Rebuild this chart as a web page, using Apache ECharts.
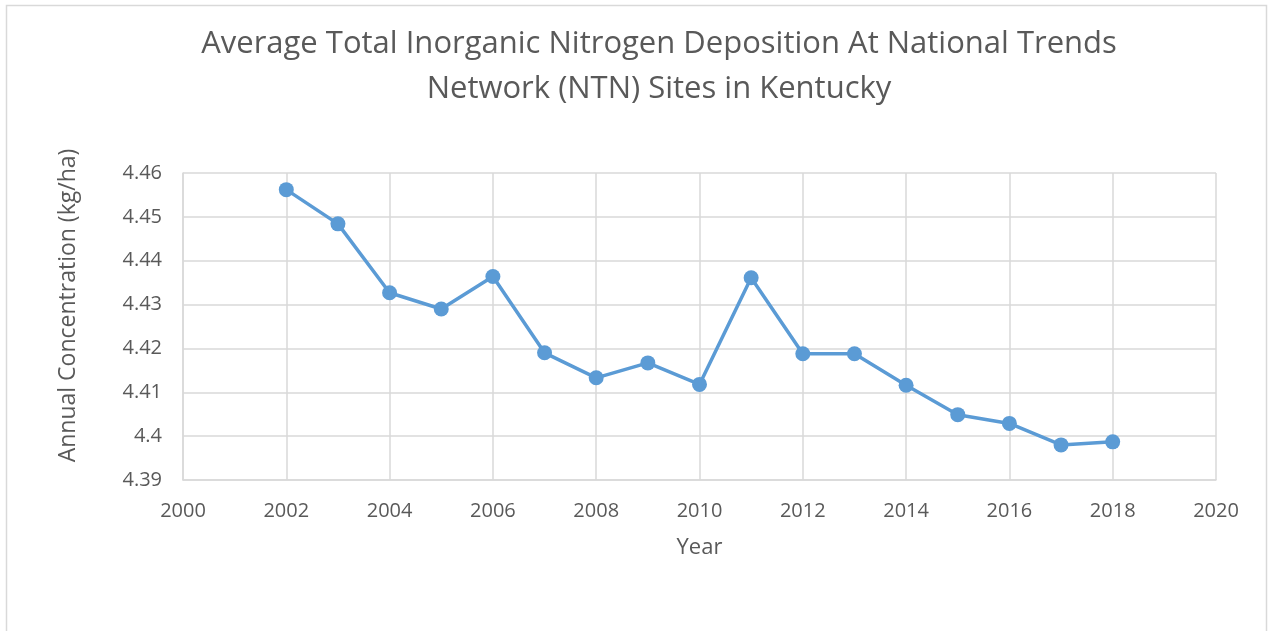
<!DOCTYPE html>
<html>
<head>
<meta charset="utf-8">
<script src="https://cdn.jsdelivr.net/npm/echarts@6/dist/echarts.min.js"></script>
<style>
  html, body { margin: 0; padding: 0; background: #fff; }
  #chart { width: 1268px; height: 631px; }
</style>
</head>
<body>
<div id="chart"></div>
<script>
    // values
    var years = [2002, 2003, 2004, 2005, 2006, 2007, 2008, 2009, 2010,
                 2011, 2012, 2013, 2014, 2015, 2016, 2017, 2018];
    var deposition = [4.4562, 4.4484, 4.4327, 4.4290, 4.4364, 4.4190, 4.4133, 4.4167, 4.4118,
                      4.4361, 4.4188, 4.4188, 4.4116, 4.4049, 4.4029, 4.3980, 4.3987];

    var titleText = 'Average Total Inorganic Nitrogen Deposition At National Trends\nNetwork (NTN) Sites in Kentucky';
    var font = 'Open Sans';
    var textColor = '#595959';
    var gridColor = '#d9d9d9';

    var points = years.map(function (y, i) { return [y, deposition[i]]; });

    var chart = echarts.init(document.getElementById('chart'));
    chart.setOption({
        animation: false,
        backgroundColor: '#fff',
        title: {
            text: titleText,
            left: 654,
            textAlign: 'center',
            top: 17,
            textStyle: {
                fontFamily: font,
                fontSize: 31,
                fontWeight: 'normal',
                color: textColor,
                lineHeight: 45
            }
        },
        graphic: [{
            type: 'rect',
            shape: { x: 6.5, y: 5.5, width: 1260, height: 660 },
            style: { fill: 'none', stroke: gridColor, lineWidth: 1.5 },
            silent: true
        }],
        grid: { left: 183, right: 52, top: 173, bottom: 151 },
        xAxis: {
            type: 'value',
            min: 2000,
            max: 2020,
            interval: 2,
            name: 'Year',
            nameLocation: 'middle',
            nameGap: 57,
            nameTextStyle: { fontFamily: font, fontSize: 22, color: textColor },
            axisLine: { show: true, lineStyle: { color: gridColor, width: 1.5 } },
            axisTick: { show: false },
            axisLabel: {
                fontFamily: font, fontSize: 20, color: textColor, margin: 21,
                formatter: function (v) { return String(v); }
            },
            splitLine: { show: true, lineStyle: { color: gridColor, width: 1.5 } }
        },
        yAxis: {
            type: 'value',
            min: 4.39,
            max: 4.46,
            interval: 0.01,
            name: 'Annual Concentration (kg/ha)',
            nameLocation: 'middle',
            nameGap: 103,
            nameTextStyle: { fontFamily: font, fontSize: 23, color: textColor, padding: [0, 0, 0, 42] },
            axisLine: { show: true, lineStyle: { color: gridColor, width: 1.5 } },
            axisTick: { show: false },
            axisLabel: {
                fontFamily: font, fontSize: 20, color: textColor, margin: 21,
                formatter: function (v) { return String(parseFloat(v.toFixed(2))); }
            },
            splitLine: { show: true, lineStyle: { color: gridColor, width: 1.5 } }
        },
        series: [{
            name: 'Deposition',
            type: 'line',
            data: points,
            symbol: 'circle',
            symbolSize: 15,
            showSymbol: true,
            itemStyle: { color: '#5b9bd5' },
            lineStyle: { color: '#5b9bd5', width: 3.5 }
        }]
    });
</script>
</body>
</html>
